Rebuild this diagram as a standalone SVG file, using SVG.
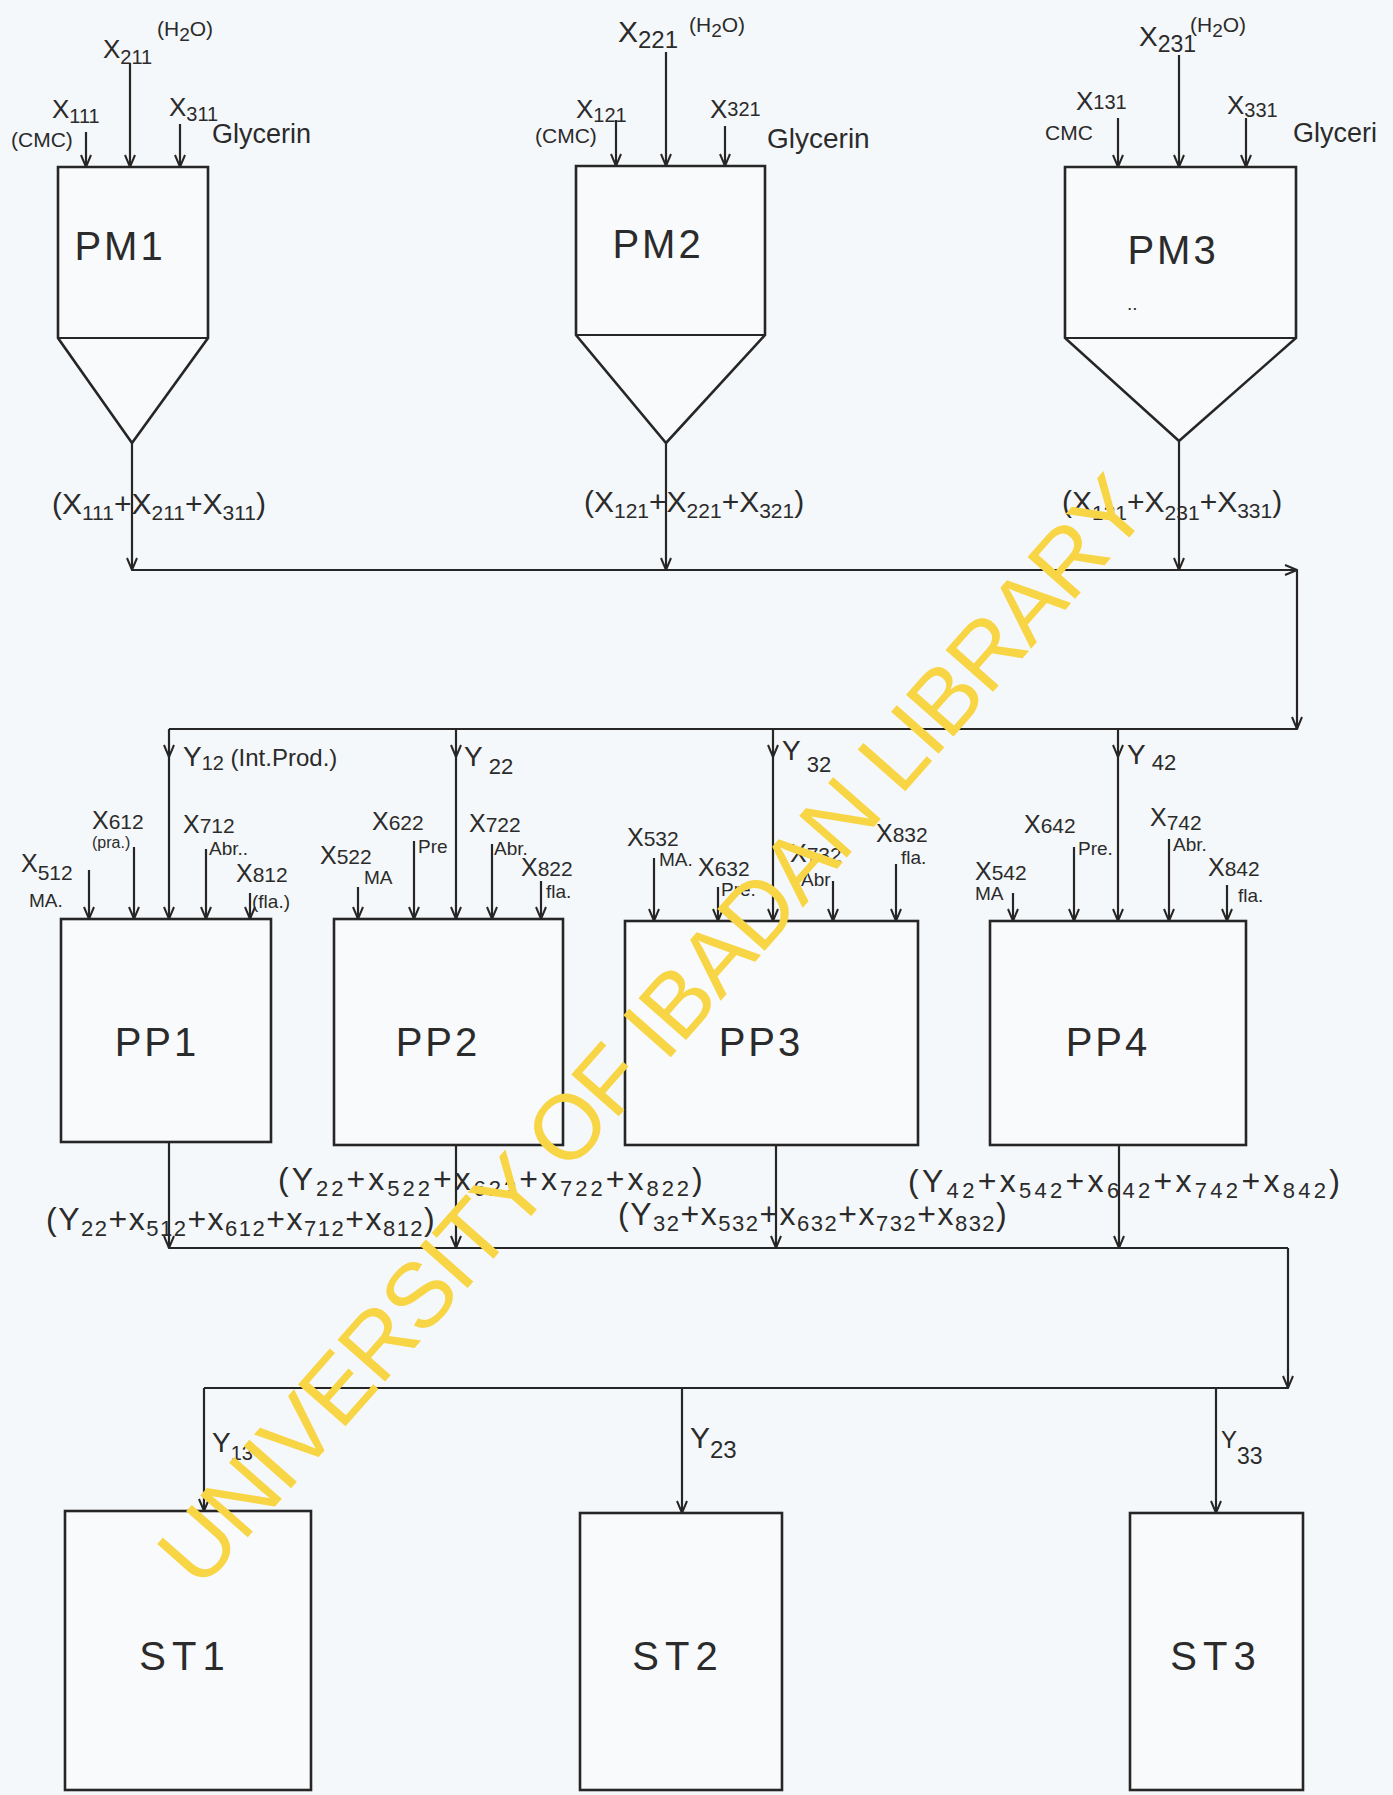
<svg xmlns="http://www.w3.org/2000/svg" width="1393" height="1795" viewBox="0 0 1393 1795">
<style>
.ln{stroke:#262626;stroke-width:2.2;fill:none}
.ar{stroke:#262626;stroke-width:2.2;fill:none;marker-end:url(#ah)}
.box{stroke:#262626;stroke-width:2.6;fill:#f8fafc}
text{font-family:"Liberation Sans","DejaVu Sans",sans-serif;fill:#2b2b2b}
.m{font-size:26px}
.s{font-size:20px}
.n{font-size:21px}
.g{font-size:27px}
.big{font-size:40px;letter-spacing:3px}
.o{font-size:30px}
.os{font-size:21px}
.q{font-size:32px}
.qs{font-size:22px}
.p{font-size:25px}
.ps{font-size:21px}
.sm{font-size:19px}
.wm{font-size:92px;fill:#f7d544;font-family:"Liberation Sans",sans-serif}
</style>
<defs>
<marker id="ah" viewBox="0 0 14 14" refX="13" refY="7" markerWidth="14" markerHeight="14" orient="auto" markerUnits="userSpaceOnUse">
<path d="M1,2 L13,7 L1,12" fill="none" stroke="#262626" stroke-width="2"/>
</marker>
</defs>
<rect x="0" y="0" width="1393" height="1795" fill="#f5f8fa"/>

<g id="nodes">
<g id="PM1">
<path class="box" d="M58,167 H208 V338 L132,443 L58,338 Z"/>
<line class="ln" x1="58" y1="338" x2="208" y2="338"/>
<text x="120" y="260" class="big" text-anchor="middle">PM1</text>
</g>
<g id="PM2">
<path class="box" d="M576,166 H765 V335 L666,443 L576,335 Z"/>
<line class="ln" x1="576" y1="335" x2="765" y2="335"/>
<text x="658" y="258" class="big" text-anchor="middle">PM2</text>
</g>
<g id="PM3">
<path class="box" d="M1065,167 H1296 V338 L1179,441 L1065,338 Z"/>
<line class="ln" x1="1065" y1="338" x2="1296" y2="338"/>
<text x="1173" y="264" class="big" text-anchor="middle">PM3</text>
<text x="1127" y="310" class="sm">..</text>
</g>
<g id="PP1">
<rect class="box" x="61" y="919" width="210" height="223"/>
<text x="157" y="1056" class="big" text-anchor="middle">PP1</text>
</g>
<g id="PP2">
<rect class="box" x="334" y="919" width="229" height="226"/>
<text x="438" y="1056" class="big" text-anchor="middle">PP2</text>
</g>
<g id="PP3">
<rect class="box" x="625" y="921" width="293" height="224"/>
<text x="761" y="1056" class="big" text-anchor="middle">PP3</text>
</g>
<g id="PP4">
<rect class="box" x="990" y="921" width="256" height="224"/>
<text x="1108" y="1056" class="big" text-anchor="middle">PP4</text>
</g>
<g id="ST1">
<rect class="box" x="65" y="1511" width="246" height="279"/>
<text x="185" y="1670" class="big" text-anchor="middle" style="letter-spacing:6px">ST1</text>
</g>
<g id="ST2">
<rect class="box" x="580" y="1513" width="202" height="277"/>
<text x="678" y="1670" class="big" text-anchor="middle" style="letter-spacing:6px">ST2</text>
</g>
<g id="ST3">
<rect class="box" x="1130" y="1513" width="173" height="277"/>
<text x="1216" y="1670" class="big" text-anchor="middle" style="letter-spacing:6px">ST3</text>
</g>
</g>

<g id="connectors">
<line class="ar" x1="86" y1="132" x2="86" y2="167"/>
<line class="ar" x1="130" y1="63" x2="130" y2="167"/>
<line class="ar" x1="180" y1="124" x2="180" y2="167"/>
<line class="ar" x1="616" y1="120" x2="616" y2="166"/>
<line class="ar" x1="666" y1="52" x2="666" y2="166"/>
<line class="ar" x1="725" y1="126" x2="725" y2="166"/>
<line class="ar" x1="1118" y1="118" x2="1118" y2="167"/>
<line class="ar" x1="1179" y1="55" x2="1179" y2="167"/>
<line class="ar" x1="1246" y1="118" x2="1246" y2="167"/>
<line class="ar" x1="132" y1="443" x2="132" y2="570"/>
<line class="ar" x1="666" y1="443" x2="666" y2="570"/>
<line class="ar" x1="1179" y1="441" x2="1179" y2="570"/>
<line class="ar" x1="132" y1="570" x2="1297" y2="570"/>
<line class="ar" x1="1297" y1="570" x2="1297" y2="729"/>
<line class="ln" x1="169" y1="729" x2="1297" y2="729"/>
<line class="ar" x1="169" y1="729" x2="169" y2="757"/>
<line class="ar" x1="169" y1="757" x2="169" y2="919"/>
<line class="ar" x1="456" y1="729" x2="456" y2="757"/>
<line class="ar" x1="456" y1="757" x2="456" y2="919"/>
<line class="ar" x1="773" y1="729" x2="773" y2="757"/>
<line class="ar" x1="773" y1="757" x2="773" y2="921"/>
<line class="ar" x1="1118" y1="729" x2="1118" y2="757"/>
<line class="ar" x1="1118" y1="757" x2="1118" y2="921"/>
<line class="ar" x1="89" y1="870" x2="89" y2="919"/>
<line class="ar" x1="134" y1="847" x2="134" y2="919"/>
<line class="ar" x1="206" y1="849" x2="206" y2="919"/>
<line class="ar" x1="250" y1="893" x2="250" y2="919"/>
<line class="ar" x1="358" y1="887" x2="358" y2="919"/>
<line class="ar" x1="414" y1="841" x2="414" y2="919"/>
<line class="ar" x1="492" y1="844" x2="492" y2="919"/>
<line class="ar" x1="541" y1="881" x2="541" y2="919"/>
<line class="ar" x1="654" y1="858" x2="654" y2="921"/>
<line class="ar" x1="718" y1="887" x2="718" y2="921"/>
<line class="ar" x1="833" y1="881" x2="833" y2="921"/>
<line class="ar" x1="896" y1="864" x2="896" y2="921"/>
<line class="ar" x1="1013" y1="893" x2="1013" y2="921"/>
<line class="ar" x1="1074" y1="847" x2="1074" y2="921"/>
<line class="ar" x1="1169" y1="839" x2="1169" y2="921"/>
<line class="ar" x1="1227" y1="885" x2="1227" y2="921"/>
<line class="ar" x1="169" y1="1142" x2="169" y2="1248"/>
<line class="ar" x1="456" y1="1145" x2="456" y2="1248"/>
<line class="ar" x1="776" y1="1145" x2="776" y2="1248"/>
<line class="ar" x1="1119" y1="1145" x2="1119" y2="1248"/>
<line class="ln" x1="169" y1="1248" x2="1288" y2="1248"/>
<line class="ar" x1="1288" y1="1248" x2="1288" y2="1388"/>
<line class="ln" x1="204" y1="1388" x2="1288" y2="1388"/>
<line class="ar" x1="204" y1="1388" x2="204" y2="1511"/>
<line class="ar" x1="682" y1="1388" x2="682" y2="1513"/>
<line class="ar" x1="1216" y1="1388" x2="1216" y2="1513"/>
</g>

<g id="labels">
<text x="103" y="58" class="m">X<tspan class="s" dy="6">211</tspan></text>
<text x="157" y="36" class="n">(H<tspan class="sm" dy="5">2</tspan><tspan dy="-5">O)</tspan></text>
<text x="52" y="118" class="m">X<tspan class="s" dy="5">111</tspan></text>
<text x="11" y="147" class="n">(CMC)</text>
<text x="169" y="116" class="m">X<tspan class="s" dy="5">311</tspan></text>
<text x="212" y="143" class="g">Glycerin</text>
<text x="618" y="42" class="m" style="font-size:30px">X<tspan class="s" dy="6" style="font-size:24px">221</tspan></text>
<text x="689" y="32" class="n">(H<tspan class="sm" dy="5">2</tspan><tspan dy="-5">O)</tspan></text>
<text x="576" y="118" class="m">X<tspan class="s" dy="4">121</tspan></text>
<text x="535" y="143" class="n">(CMC)</text>
<text x="710" y="118" class="m">X<tspan class="s" dy="-2">321</tspan></text>
<text x="767" y="148" class="g" style="font-size:28px">Glycerin</text>
<text x="1139" y="46" class="m" style="font-size:28px">X<tspan class="s" dy="6" style="font-size:23px">231</tspan></text>
<text x="1190" y="32" class="n">(H<tspan class="sm" dy="5">2</tspan><tspan dy="-5">O)</tspan></text>
<text x="1076" y="110" class="m">X<tspan class="s" dy="-1">131</tspan></text>
<text x="1045" y="140" class="n">CMC</text>
<text x="1227" y="114" class="m">X<tspan class="s" dy="3">331</tspan></text>
<text x="1293" y="142" class="g">Glyceri</text>
<text x="52" y="514" class="o">(X<tspan class="os" dy="6">111</tspan><tspan dy="-6">+X</tspan><tspan class="os" dy="6">211</tspan><tspan dy="-6">+X</tspan><tspan class="os" dy="6">311</tspan><tspan dy="-6">)</tspan></text>
<text x="584" y="512" class="o">(X<tspan class="os" dy="6">121</tspan><tspan dy="-6">+X</tspan><tspan class="os" dy="6">221</tspan><tspan dy="-6">+X</tspan><tspan class="os" dy="6">321</tspan><tspan dy="-6">)</tspan></text>
<text x="1062" y="512" class="o">(X<tspan class="os" dy="8">131</tspan><tspan dy="-8">+X</tspan><tspan class="os" dy="8">231</tspan><tspan dy="-8">+X</tspan><tspan class="os" dy="6">331</tspan><tspan dy="-6">)</tspan></text>
<text x="183" y="766" class="m" style="font-size:28px">Y<tspan class="s" dy="4">12</tspan><tspan dy="-4" style="font-size:24px"> (Int.Prod.)</tspan></text>
<text x="464" y="766" class="m" style="font-size:28px">Y<tspan class="s" dy="8" style="font-size:22px"> 22</tspan></text>
<text x="782" y="760" class="m" style="font-size:28px">Y<tspan class="s" dy="12" style="font-size:22px"> 32</tspan></text>
<text x="1127" y="764" class="m" style="font-size:28px">Y<tspan class="s" dy="6" style="font-size:22px"> 42</tspan></text>
<text x="21" y="872" class="p">X<tspan class="ps" dy="8">512</tspan></text>
<text x="29" y="907" class="sm">MA.</text>
<text x="92" y="829" class="p">X<tspan class="ps">612</tspan></text>
<text x="92" y="848" class="sm" style="font-size:16px">(pra.)</text>
<text x="183" y="833" class="p">X<tspan class="ps">712</tspan></text>
<text x="209" y="855" class="sm">Abr..</text>
<text x="236" y="882" class="p">X<tspan class="ps">812</tspan></text>
<text x="252" y="908" class="sm">(fla.)</text>
<text x="320" y="864" class="p">X<tspan class="ps">522</tspan></text>
<text x="364" y="884" class="sm">MA</text>
<text x="372" y="830" class="p">X<tspan class="ps">622</tspan></text>
<text x="418" y="853" class="sm">Pre</text>
<text x="469" y="832" class="p">X<tspan class="ps">722</tspan></text>
<text x="494" y="855" class="sm">Abr.</text>
<text x="521" y="876" class="p">X<tspan class="ps">822</tspan></text>
<text x="546" y="898" class="sm">fla.</text>
<text x="627" y="846" class="p">X<tspan class="ps">532</tspan></text>
<text x="659" y="866" class="sm">MA.</text>
<text x="698" y="876" class="p">X<tspan class="ps">632</tspan></text>
<text x="721" y="896" class="sm">Pre.</text>
<text x="790" y="862" class="p">X<tspan class="ps">732</tspan></text>
<text x="801" y="886" class="sm">Abr</text>
<text x="876" y="842" class="p">X<tspan class="ps">832</tspan></text>
<text x="901" y="864" class="sm">fla.</text>
<text x="975" y="880" class="p">X<tspan class="ps">542</tspan></text>
<text x="975" y="900" class="sm">MA</text>
<text x="1024" y="833" class="p">X<tspan class="ps">642</tspan></text>
<text x="1078" y="855" class="sm">Pre.</text>
<text x="1150" y="826" class="p">X<tspan class="ps" dy="4">742</tspan></text>
<text x="1173" y="851" class="sm">Abr.</text>
<text x="1208" y="876" class="p">X<tspan class="ps">842</tspan></text>
<text x="1238" y="902" class="sm">fla.</text>
<text x="46" y="1230" class="q" style="letter-spacing:1.5px">(Y<tspan class="qs" dy="6">22</tspan><tspan dy="-6">+x</tspan><tspan class="qs" dy="6">512</tspan><tspan dy="-6">+x</tspan><tspan class="qs" dy="6">612</tspan><tspan dy="-6">+x</tspan><tspan class="qs" dy="6">712</tspan><tspan dy="-6">+x</tspan><tspan class="qs" dy="6">812</tspan><tspan dy="-6">)</tspan></text>
<text x="278" y="1190" class="q" style="letter-spacing:3px">(Y<tspan class="qs" dy="6">22</tspan><tspan dy="-6">+x</tspan><tspan class="qs" dy="6">522</tspan><tspan dy="-6">+x</tspan><tspan class="qs" dy="6">622</tspan><tspan dy="-6">+x</tspan><tspan class="qs" dy="6">722</tspan><tspan dy="-6">+x</tspan><tspan class="qs" dy="6">822</tspan><tspan dy="-6">)</tspan></text>
<text x="618" y="1225" class="q" style="letter-spacing:1.5px">(Y<tspan class="qs" dy="6">32</tspan><tspan dy="-6">+x</tspan><tspan class="qs" dy="6">532</tspan><tspan dy="-6">+x</tspan><tspan class="qs" dy="6">632</tspan><tspan dy="-6">+x</tspan><tspan class="qs" dy="6">732</tspan><tspan dy="-6">+x</tspan><tspan class="qs" dy="6">832</tspan><tspan dy="-6">)</tspan></text>
<text x="908" y="1192" class="q" style="letter-spacing:3.3px">(Y<tspan class="qs" dy="6">42</tspan><tspan dy="-6">+x</tspan><tspan class="qs" dy="6">542</tspan><tspan dy="-6">+x</tspan><tspan class="qs" dy="6">642</tspan><tspan dy="-6">+x</tspan><tspan class="qs" dy="6">742</tspan><tspan dy="-6">+x</tspan><tspan class="qs" dy="6">842</tspan><tspan dy="-6">)</tspan></text>
<text x="212" y="1452" class="m" style="font-size:28px">Y<tspan class="s" dy="8">13</tspan></text>
<text x="690" y="1448" class="m" style="font-size:30px">Y<tspan class="s" dy="10" style="font-size:24px">23</tspan></text>
<text x="1221" y="1448" class="m" style="font-size:24px">Y<tspan class="s" dy="16" style="font-size:23px">33</tspan></text>
</g>

<text class="wm" x="652" y="1030" dy="0.35em" text-anchor="middle" textLength="1440" lengthAdjust="spacing" transform="rotate(-48.6 652 1030)">UNIVERSITY OF IBADAN LIBRARY</text>
</svg>
